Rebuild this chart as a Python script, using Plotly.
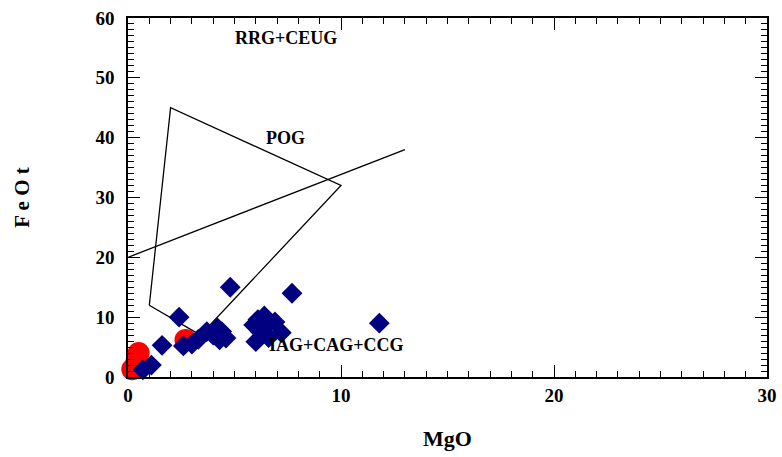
import plotly.graph_objects as go

# Field boundaries (MgO, FeOt)
pog_mgo = [1, 2, 10, 3.4, 1]
pog_feo = [12, 45, 32, 7, 12]
div_mgo = [0, 13]
div_feo = [20, 38]

# Sample data
red_mgo = [0.2, 0.4, 0.5, 2.7]
red_feo = [1.3, 2.6, 4.0, 6.2]

blue_mgo = [0.7, 1.1, 1.6, 2.4, 4.8, 7.7, 11.8,
            2.6, 3.0, 3.3, 3.7, 4.0, 4.2, 4.4, 4.6, 4.3,
            5.9, 6.0, 6.2, 6.4, 6.6, 6.9, 7.2, 6.1, 6.6, 6.3]
blue_feo = [1.2, 2.0, 5.3, 10, 15, 14, 9,
            5.2, 5.5, 6.3, 7.6, 7.0, 8.2, 7.6, 6.5, 6.2,
            8.7, 5.9, 7.6, 10.2, 8.8, 9.2, 7.4, 9.6, 6.6, 8.0]

labels = ["RRG+CEUG", "POG", "IAG+CAG+CCG"]
label_x = [7.4, 7.4, 9.8]
label_y = [56.7, 40.0, 5.4]

FONT = "Liberation Serif, Times New Roman, serif"

fig = go.Figure()
fig.add_trace(go.Scatter(x=pog_mgo, y=pog_feo, mode="lines",
                         line=dict(color="black", width=1.3), hoverinfo="skip"))
fig.add_trace(go.Scatter(x=div_mgo, y=div_feo, mode="lines",
                         line=dict(color="black", width=1.3), hoverinfo="skip"))
fig.add_trace(go.Scatter(x=red_mgo, y=red_feo, mode="markers", cliponaxis=False,
                         marker=dict(symbol="circle", size=22, color="#ff0000",
                                     line=dict(width=0))))
fig.add_trace(go.Scatter(x=blue_mgo, y=blue_feo, mode="markers", cliponaxis=False,
                         marker=dict(symbol="diamond", size=16, color="#000080",
                                     line=dict(width=0))))

for t, x, y in zip(labels, label_x, label_y):
    fig.add_annotation(x=x, y=y, text=t, showarrow=False,
                       font=dict(family=FONT, size=18, color="black", weight="bold"))

axis_common = dict(
    showgrid=False, zeroline=False, showline=True, linecolor="black", linewidth=1.5,
    mirror="ticks", ticks="inside", ticklen=12, tickwidth=1.2, tickcolor="black",
    automargin=False, ticklabeloverflow="allow",
    tickfont=dict(family=FONT, size=19, color="black", weight="bold"),
    minor=dict(ticks="inside", ticklen=6, tickwidth=1, tickcolor="black", dtick=1,
               showgrid=False),
)

fig.update_xaxes(range=[0, 30], dtick=10, tick0=0,
                 title=dict(text="MgO", font=dict(family=FONT, size=22, color="black", weight="bold"),
                            standoff=26),
                 **axis_common)
fig.update_yaxes(range=[0, 60], dtick=10, tick0=0, ticklabelstandoff=8,
                 title=dict(text="F e O t", font=dict(family=FONT, size=21, color="black", weight="bold"),
                            standoff=60),
                 **axis_common)

fig.update_layout(width=782, height=457, showlegend=False,
                  plot_bgcolor="white", paper_bgcolor="white",
                  margin=dict(l=128, r=15, t=18, b=80))

fig.write_html("out.html", config={"displayModeBar": False},
               post_script="document.body.style.margin='0';document.body.style.overflow='hidden';")
